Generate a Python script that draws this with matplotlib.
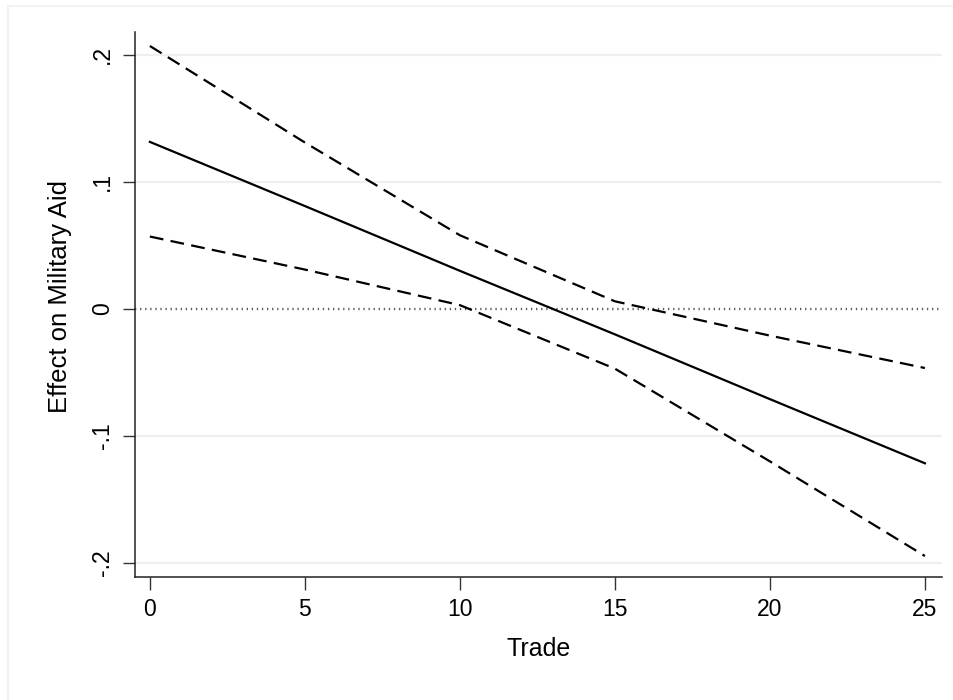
"""
Efecto marginal de Trade sobre la ayuda militar, con bandas de confianza al 95%.
"""

import matplotlib
matplotlib.use("Agg")
import matplotlib.pyplot as plt
from matplotlib.lines import Line2D

# ---------------------------------------------------------------------------
# Datos (efecto marginal evaluado en cada valor de Trade)
# ---------------------------------------------------------------------------

trade = [0, 5, 10, 15, 20, 25]
effect = [0.1315, 0.081, 0.030, -0.020, -0.071, -0.1215]
ci_upper = [0.207, 0.131, 0.058, 0.006, -0.021, -0.0465]
ci_lower = [0.057, 0.031, 0.003, -0.047, -0.120, -0.1945]

x_ticks = [0, 5, 10, 15, 20, 25]
y_ticks = [0.2, 0.1, 0.0, -0.1, -0.2]
y_tick_labels = [".2", ".1", "0", "-.1", "-.2"]

# ---------------------------------------------------------------------------
# Figura
# ---------------------------------------------------------------------------

plt.rcParams["font.family"] = ["Liberation Sans", "DejaVu Sans"]

fig = plt.figure(figsize=(9.54, 7.0), dpi=100)
ax = fig.add_axes([135 / 954, 1 - 577 / 700, (942 - 135) / 954, (577 - 32) / 700])

# lineas de cuadricula suaves en cada tick de y
for yv in y_ticks:
    if yv != 0:
        ax.axhline(yv, color="#eef0f0", lw=1.6, zorder=0)

# referencia en cero (punteada)
ax.axhline(0, color="#5a5a5a", lw=1.7, linestyle=(0, (0.55, 1.6)), zorder=1)

ax.plot(trade, effect, color="black", lw=1.6, zorder=3)
ax.plot(trade, ci_upper, color="black", lw=1.6, dashes=(6.2, 3.3), zorder=3)
ax.plot(trade, ci_lower, color="black", lw=1.6, dashes=(6.2, 3.3), zorder=3)

ax.set_xlim(-0.48, 25.55)
ax.set_ylim(-0.211, 0.218)

ax.set_xticks(x_ticks)
ax.set_yticks(y_ticks)
ax.set_yticklabels(y_tick_labels, rotation=90, va="center")

ax.tick_params(axis="both", labelsize=16.5, length=9, width=1.0,
               color="#333333", pad=6)

for side in ("top", "right"):
    ax.spines[side].set_visible(False)
for side in ("left", "bottom"):
    ax.spines[side].set_color("#222222")
    ax.spines[side].set_linewidth(1.1)

ax.set_xlabel("Trade", fontsize=18, labelpad=12)
ax.set_ylabel("Effect on Military Aid", fontsize=18.5)
ax.yaxis.set_label_coords(-0.078, 0.515)

# marco exterior muy tenue
fig.add_artist(Line2D([8 / 954, 8 / 954], [0, 1 - 6 / 700],
                      transform=fig.transFigure, color="#f0f0f0", lw=1.2))
fig.add_artist(Line2D([8 / 954, 1], [1 - 6 / 700, 1 - 6 / 700],
                      transform=fig.transFigure, color="#f0f0f0", lw=1.2))

fig.savefig("out.png", dpi=100, facecolor="white")
